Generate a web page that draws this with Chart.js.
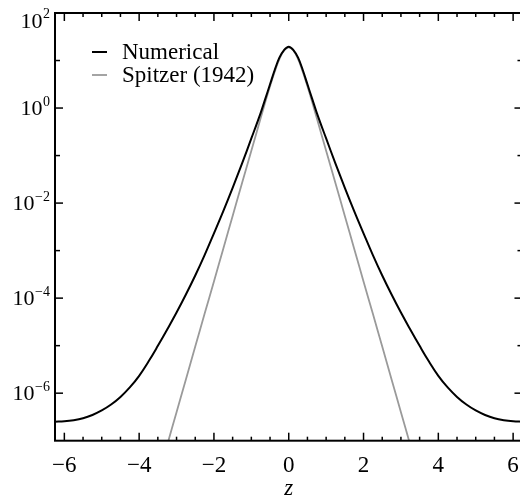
<!DOCTYPE html>
<html>
<head>
<meta charset="utf-8">
<script src="https://cdn.jsdelivr.net/npm/chart.js@4"></script>
<style>
  html, body { margin: 0; padding: 0; background: #fff; overflow: hidden; }
  #chart { display: block; }
</style>
</head>
<body>
<canvas id="chart" width="530" height="496"></canvas>
<script>
// values
const zNumerical = [
  -6.25, -6, -5.75, -5.5, -5.25, -5, -4.75, -4.5, -4.25, -4, -3.75, -3.5, -3.25,
  -3, -2.75, -2.5, -2.25, -2, -1.75, -1.5, -1.25, -1, -0.75, -0.625, -0.5,
  -0.375, -0.25, -0.125, 0, 0.125, 0.25, 0.375, 0.5, 0.625, 0.75, 1, 1.25, 1.5,
  1.75, 2, 2.25, 2.5, 2.75, 3, 3.25, 3.5, 3.75, 4, 4.25, 4.5, 4.75, 5, 5.25,
  5.5, 5.75, 6, 6.25,
];
const numerical = [
  2.51e-7, 2.56e-7, 2.7e-7, 2.97e-7, 3.48e-7, 4.33e-7, 5.77e-7, 8.34e-7, 1.32e-6,
  2.32e-6, 4.63e-6, 9.91e-6, 2.19e-5, 4.97e-5, 1.19e-4, 2.99e-4, 8.05e-4, 2.31e-3,
  6.79e-3, 2.1e-2, 6.79e-2, 0.229, 0.794, 1.58, 3.16, 6.31, 11.5, 16.6, 19.5,
  16.6, 11.5, 6.31, 3.16, 1.58, 0.794, 0.229, 6.79e-2, 2.1e-2, 6.79e-3, 2.31e-3,
  8.05e-4, 2.99e-4, 1.19e-4, 4.97e-5, 2.19e-5, 9.91e-6, 4.63e-6, 2.32e-6, 1.32e-6,
  8.34e-7, 5.77e-7, 4.33e-7, 3.48e-7, 2.97e-7, 2.7e-7, 2.56e-7, 2.51e-7,
];
const zSpitzer = [
  -3.5, -3.25, -3, -2.75, -2.5, -2.25, -2, -1.75, -1.5, -1.25, -1, -0.75, -0.625,
  -0.5, -0.375, -0.25, -0.125, 0, 0.125, 0.25, 0.375, 0.5, 0.625, 0.75, 1, 1.25,
  1.5, 1.75, 2, 2.25, 2.5, 2.75, 3, 3.25, 3.5,
];
const spitzer = [
  1.66e-8, 8.13e-8, 3.98e-7, 1.95e-6, 9.55e-6, 4.68e-5, 2.24e-4, 1.1e-3, 5.37e-3,
  2.63e-2, 0.126, 0.617, 1.35, 2.88, 5.81, 10.7, 16.2, 19.0, 16.2, 10.7, 5.81,
  2.88, 1.35, 0.617, 0.126, 2.63e-2, 5.37e-3, 1.1e-3, 2.24e-4, 4.68e-5, 9.55e-6,
  1.95e-6, 3.98e-7, 8.13e-8, 1.66e-8,
];
const xTicks = [-6, -4, -2, 0, 2, 4, 6];
const yTickExponents = [2, 0, -2, -4, -6];
const seriesNames = ["Numerical", "Spitzer (1942)"];

const serif = "'Liberation Serif', 'Times New Roman', serif";
const minus = (v) => (v < 0 ? "\u2212" + Math.abs(v) : String(v));

// frame with inward ticks, y labels, legend and axis title
const frame = {
  id: "frame",
  afterDraw(chart) {
    const { ctx, chartArea: a, scales } = chart;
    const x = scales.x;
    const y = scales.y;
    const seg = (x0, y0, x1, y1) => {
      ctx.beginPath();
      ctx.moveTo(x0, y0);
      ctx.lineTo(x1, y1);
      ctx.stroke();
    };
    ctx.save();
    ctx.strokeStyle = "#000";
    ctx.lineWidth = 1.5;
    for (let v = -6; v <= 6; v += 0.5) {
      const px = x.getPixelForValue(v);
      const len = v % 2 === 0 ? 8 : 4;
      seg(px, a.bottom, px, a.bottom - len);
      seg(px, a.top, px, a.top + len);
    }
    for (let e = -6; e <= 1; e++) {
      const py = y.getPixelForValue(Math.pow(10, e));
      const len = e % 2 === 0 ? 8 : 5;
      seg(a.left, py, a.left + len, py);
      seg(a.right, py, a.right - len, py);
    }
    ctx.lineWidth = 2;
    ctx.strokeRect(a.left, a.top, a.right - a.left, a.bottom - a.top);

    // y tick labels 10^n
    ctx.fillStyle = "#000";
    ctx.textBaseline = "alphabetic";
    ctx.textAlign = "left";
    yTickExponents.forEach((e) => {
      const py = Math.max(y.getPixelForValue(Math.pow(10, e)), 20.5);
      const base = py + 7;
      ctx.font = "14px " + serif;
      const ex = minus(e);
      const ew = ctx.measureText(ex).width;
      ctx.font = "22px " + serif;
      const mw = ctx.measureText("10").width;
      const right = 50;
      ctx.fillText("10", right - ew - mw - 0.5, base);
      ctx.font = "14px " + serif;
      ctx.fillText(ex, right - ew, base - 9.5);
    });

    // legend
    ctx.font = "23px " + serif;
    ctx.textBaseline = "middle";
    chart.data.datasets.forEach((ds, i) => {
      const ly = 52 + i * 23;
      ctx.strokeStyle = ds.borderColor;
      ctx.lineWidth = ds.borderWidth;
      seg(92, ly, 107, ly);
      ctx.fillText(ds.label, 122, ly + 1);
    });

    // axis title
    ctx.font = "italic 23px " + serif;
    ctx.textAlign = "center";
    ctx.textBaseline = "alphabetic";
    ctx.fillText("z", x.getPixelForValue(0), 495);
    ctx.restore();
  },
};

new Chart(document.querySelector("#chart"), {
  type: "scatter",
  data: {
    datasets: [
      {
        label: seriesNames[0],
        data: zNumerical.map((z, i) => ({ x: z, y: numerical[i] })),
        borderColor: "#000000",
        borderWidth: 2,
      },
      {
        label: seriesNames[1],
        data: zSpitzer.map((z, i) => ({ x: z, y: spitzer[i] })),
        borderColor: "#9a9a9a",
        borderWidth: 1.8,
      },
    ],
  },
  options: {
    responsive: false,
    animation: false,
    devicePixelRatio: 1,
    showLine: true,
    elements: {
      point: { radius: 0 },
      line: { tension: 0.4 },
    },
    layout: { padding: { top: 13, right: 6.4, left: 0, bottom: 0 } },
    plugins: { legend: { display: false }, tooltip: { enabled: false } },
    scales: {
      x: {
        type: "linear",
        min: -6.25,
        max: 6.25,
        afterBuildTicks: (s) => {
          s.ticks = xTicks.map((v) => ({ value: v }));
        },
        afterFit: (s) => {
          s.height = 55.3;
        },
        ticks: {
          callback: (v) => minus(v),
          font: { family: serif, size: 23 },
          color: "#000",
          padding: 11,
          maxRotation: 0,
          autoSkip: false,
        },
        grid: { display: false, drawTicks: false },
        border: { display: false },
      },
      y: {
        type: "logarithmic",
        min: 1e-7,
        max: 1e2,
        afterFit: (s) => {
          s.width = 55;
        },
        ticks: { display: false },
        grid: { display: false },
        border: { display: false },
      },
    },
  },
  plugins: [frame],
});
</script>
</body>
</html>
